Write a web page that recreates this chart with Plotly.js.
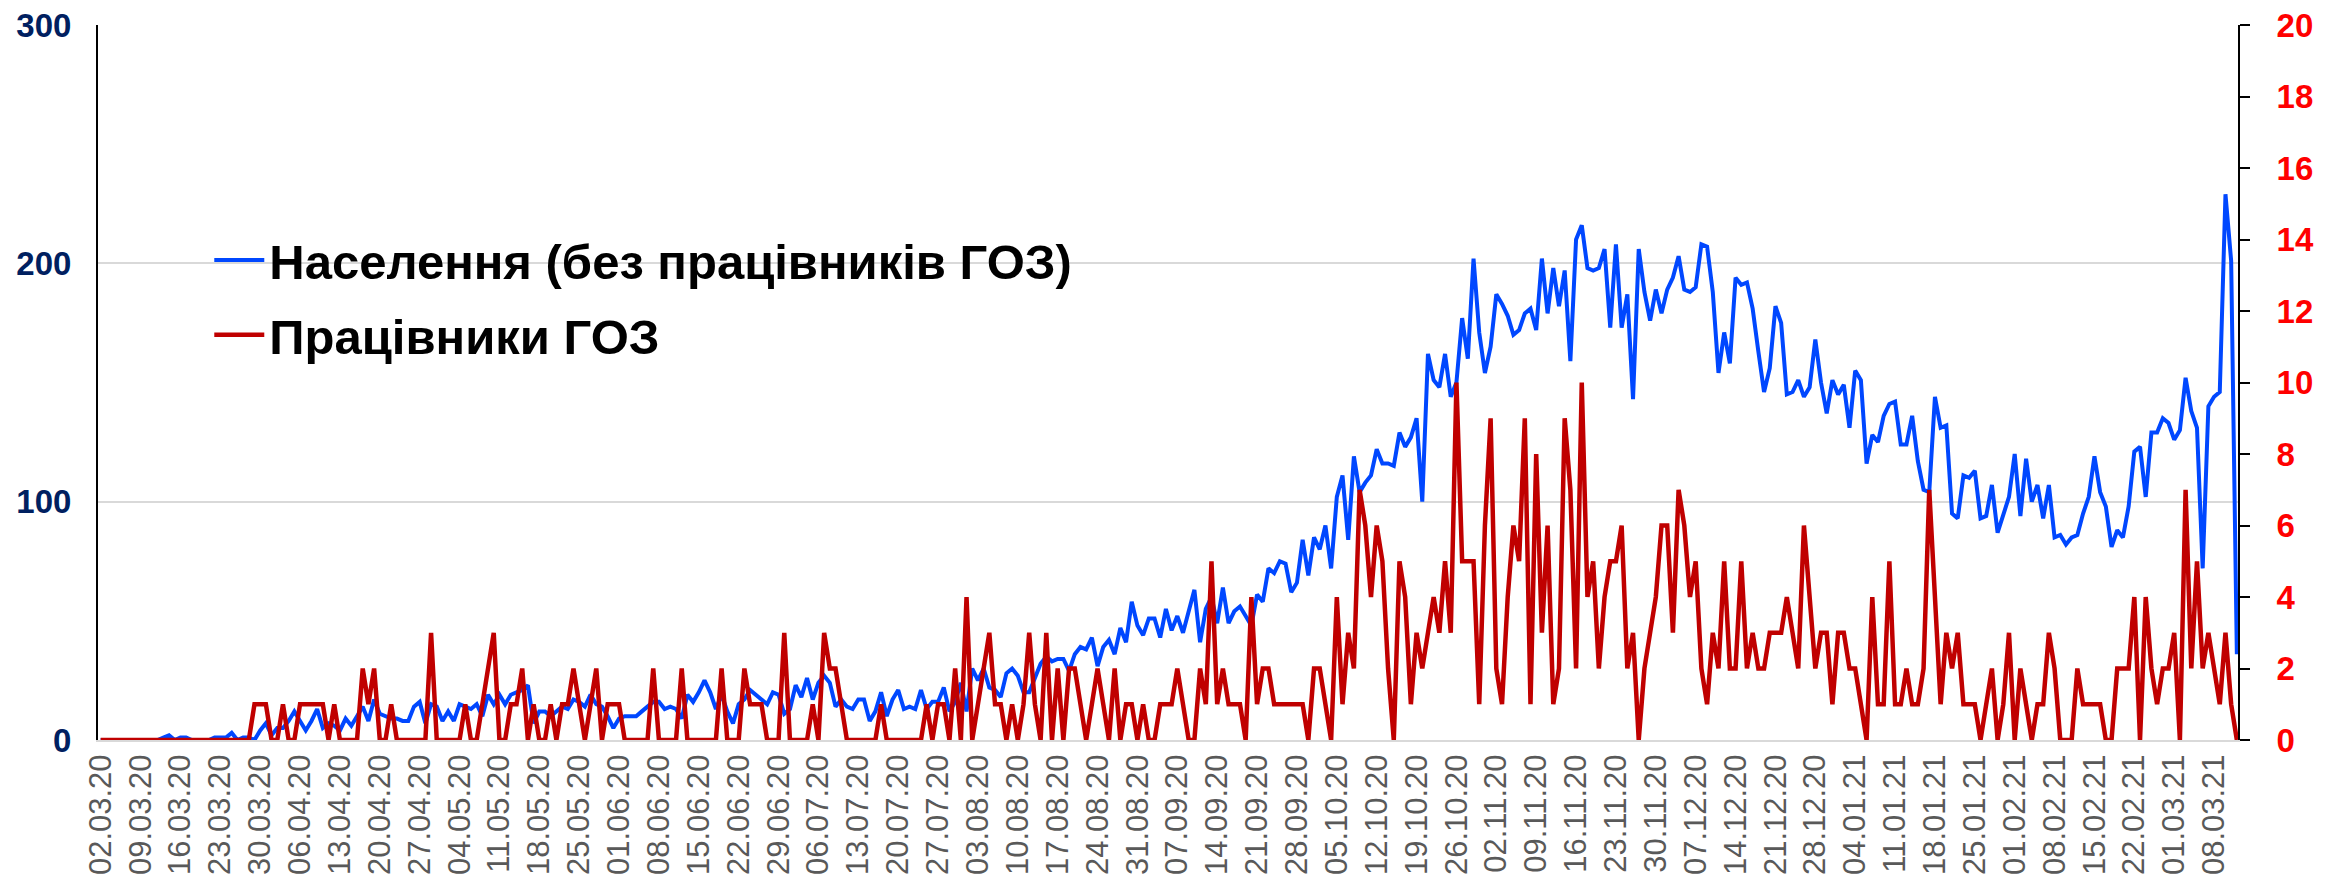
<!DOCTYPE html>
<html>
<head>
<meta charset="utf-8">
<script src="https://cdn.plot.ly/plotly-3.0.1.min.js"></script>
<style>
  html, body { margin: 0; padding: 0; background: #fff; }
  #chart { width: 2328px; height: 890px; }
</style>
</head>
<body>
<div id="chart"></div>
<script>
// ---- data (daily values starting 02.03.2020) ----
const startDate = '2020-03-02';
const seriesNames = ['Населення (без працівників ГОЗ)', 'Працівники ГОЗ'];

const population = [
  0,0,0,0,0,0,0,0,0,0,
  0,1,2,0,1,1,0,0,0,0,
  1,1,1,3,0,1,1,0,4,7,
  2,5,5,8,12,8,4,8,13,5,
  7,6,4,9,6,10,14,8,17,11,
  10,9,9,8,8,14,16,7,15,14,
  8,12,8,15,14,13,15,10,19,15,
  19,15,19,20,21,23,7,12,12,10,
  12,14,13,17,16,14,19,15,14,10,
  5,9,10,10,10,12,14,16,16,13,
  14,13,9,19,16,20,25,20,13,19,
  12,7,15,17,21,19,17,15,20,19,
  11,13,23,18,26,17,24,27,24,14,
  17,14,13,17,17,8,12,20,10,17,
  21,13,14,13,21,13,16,16,22,12,
  16,24,12,30,25,30,22,21,18,28,
  30,27,20,20,26,32,35,33,34,34,
  29,36,39,38,43,31,39,42,36,47,
  41,58,48,44,51,51,43,55,46,52,
  45,54,63,41,55,60,49,64,49,54,
  56,52,48,61,58,72,70,75,74,62,
  66,84,69,85,80,90,72,102,111,84,
  119,104,108,111,122,116,116,115,129,123,
  127,135,100,162,151,148,162,144,150,177,
  160,202,171,154,165,187,183,178,170,172,
  179,181,172,202,179,198,182,197,159,210,
  216,198,197,198,206,173,208,173,187,143,
  206,188,176,189,179,189,194,203,189,188,
  190,208,207,188,154,171,158,194,191,192,
  181,163,146,156,182,175,145,146,151,144,
  148,168,150,137,151,145,149,131,155,151,
  116,128,125,136,141,142,124,124,136,117,
  105,104,144,131,132,95,93,111,110,113,
  93,94,107,87,95,102,120,94,118,100,
  107,93,107,85,86,82,85,86,95,102,
  119,104,98,81,88,85,98,121,123,102,
  129,129,135,133,126,130,152,138,131,72,
  140,144,146,229,201,36
];

const healthWorkers = [
  0,0,0,0,0,0,0,0,0,0,
  0,0,0,0,0,0,0,0,0,0,
  0,0,0,0,0,0,0,1,1,1,
  0,0,1,0,0,1,1,1,1,1,
  0,1,0,0,0,0,2,1,2,0,
  0,1,0,0,0,0,0,0,3,0,
  0,0,0,0,1,0,0,1,2,3,
  0,0,1,1,2,0,1,0,0,1,
  0,1,1,2,1,0,1,2,0,1,
  1,1,0,0,0,0,0,2,0,0,
  0,0,2,0,0,0,0,0,0,2,
  0,0,0,2,1,1,1,0,0,0,
  3,0,0,0,0,1,0,3,2,2,
  1,0,0,0,0,0,0,1,0,0,
  0,0,0,0,0,1,0,1,1,0,
  2,0,4,0,1,2,3,1,1,0,
  1,0,1,3,1,0,3,0,2,0,
  2,2,1,0,1,2,1,0,2,0,
  1,1,0,1,0,0,1,1,1,2,
  1,0,0,2,1,5,1,2,1,1,
  1,0,4,1,2,2,1,1,1,1,
  1,1,0,2,2,1,0,4,1,3,
  2,7,6,4,6,5,2,0,5,4,
  1,3,2,3,4,3,5,3,10,5,
  5,5,1,6,9,2,1,4,6,5,
  9,1,8,3,6,1,2,9,7,2,
  10,4,5,2,4,5,5,6,2,3,
  0,2,3,4,6,6,3,7,6,4,
  5,2,1,3,2,5,2,2,5,2,
  3,2,2,3,3,3,4,3,2,6,
  4,2,3,3,1,3,3,2,2,1,
  0,4,1,1,5,1,1,2,1,1,
  2,7,4,1,3,2,3,1,1,1,
  0,1,2,0,1,3,0,2,1,0,
  1,1,3,2,0,0,0,2,1,1,
  1,1,0,0,2,2,2,4,0,4,
  2,1,2,2,3,0,7,2,5,2,
  3,2,1,3,1,0
];

// category dates (one per day)
const DAY = 86400000;
const t0 = Date.parse(startDate + 'T00:00:00Z');
const dates = population.map((_, i) => new Date(t0 + i * DAY).toISOString().slice(0, 10));

const FONT = 'Liberation Sans, Arial, sans-serif';

const traces = [
  {
    x: dates, y: population, name: seriesNames[0], type: 'scatter', mode: 'lines',
    line: { color: '#0047FF', width: 4 }, yaxis: 'y', legendgroup: 'a'
  },
  {
    x: dates, y: healthWorkers, name: seriesNames[1], type: 'scatter', mode: 'lines',
    line: { color: '#C00000', width: 4.5 }, yaxis: 'y2', legendgroup: 'b'
  }
];

const xStart = new Date(t0 - 0.47 * DAY).toISOString();
const xEnd = new Date(t0 + 375.2 * DAY).toISOString();

const layout = {
  width: 2328, height: 890,
  margin: { l: 98, r: 90, t: 25, b: 150 },
  paper_bgcolor: '#fff', plot_bgcolor: '#fff',
  font: { family: FONT },
  showlegend: true,
  legend: {
    x: 0.052, y: 0.725, xanchor: 'left', yanchor: 'top',
    bgcolor: 'rgba(0,0,0,0)', borderwidth: 0,
    font: { family: FONT, size: 49, color: '#000', weight: 'bold' },
    traceorder: 'grouped', tracegroupgap: 8, itemwidth: 50
  },
  xaxis: {
    type: 'date', range: [xStart, xEnd],
    tick0: startDate, dtick: 7 * DAY, tickformat: '%d.%m.%y',
    tickangle: -90, tickfont: { family: FONT, size: 31, color: '#595959' },
    showgrid: false, zeroline: false,
    showline: true, linecolor: '#D9D9D9', linewidth: 2,
    ticks: '', fixedrange: true
  },
  yaxis: {
    range: [0, 300], dtick: 100, tick0: 0,
    showgrid: true, gridcolor: '#D9D9D9', gridwidth: 2,
    zeroline: false, showline: true, linecolor: '#000', linewidth: 2,
    ticks: '', ticklabelstandoff: 18,
    tickfont: { family: FONT, size: 33, color: '#002060', weight: 'bold' }
  },
  yaxis2: {
    range: [0, 20], dtick: 2, tick0: 0, overlaying: 'y', side: 'right',
    showgrid: false, zeroline: false, showline: true, linecolor: '#000', linewidth: 2,
    ticks: 'outside', ticklen: 10, tickwidth: 2, tickcolor: '#000', ticklabelstandoff: 20,
    tickfont: { family: FONT, size: 33, color: '#FF0000', weight: 'bold' }
  }
};

Plotly.newPlot('chart', traces, layout, { displayModeBar: false, staticPlot: true });
</script>
</body>
</html>
